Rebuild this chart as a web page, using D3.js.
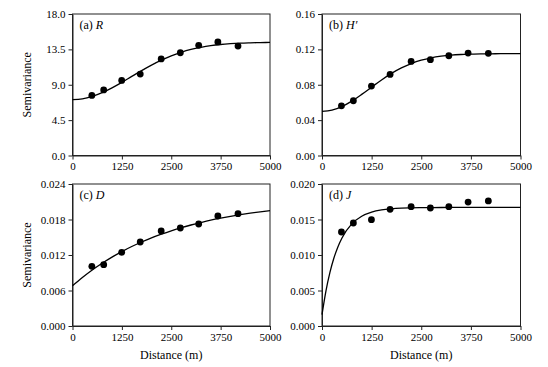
<!DOCTYPE html>
<html><head><meta charset="utf-8">
<script src="https://cdn.jsdelivr.net/npm/d3@7"></script>
<style>
body{margin:0;background:#fff;}
svg{display:block;font-family:"Liberation Serif","Times New Roman",serif;}
</style></head>
<body>
<svg id="chart" width="548" height="367"></svg>
<script>
// Lag distances (m) of the empirical semivariance points
const distances = [490, 790, 1245, 1715, 2245, 2730, 3195, 3680, 4190];
// Empirical semivariance
const semivarR = [7.64, 8.34, 9.55, 10.36, 12.29, 13.07, 14.01, 14.45, 13.92];
const semivarH = [0.0562, 0.0619, 0.0785, 0.0917, 0.1064, 0.1083, 0.1128, 0.1158, 0.1155];
const semivarD = [0.01008, 0.01037, 0.01245, 0.0142, 0.01606, 0.01656, 0.01724, 0.01859, 0.01899];
const semivarJ = [0.01324, 0.01451, 0.01498, 0.01643, 0.01681, 0.01662, 0.01681, 0.01746, 0.01761];

// Fitted model curves
const curveX = [0, 250, 500, 750, 1000, 1250, 1500, 1750, 2000, 2250, 2500, 2750, 3000, 3250, 3500, 3750, 4000, 4250, 4500, 4750, 5000];
const curveR = [7.10, 7.20, 7.51, 7.99, 8.61, 9.31, 10.06, 10.80, 11.50, 12.13, 12.68, 13.13, 13.49, 13.76, 13.97, 14.12, 14.22, 14.29, 14.33, 14.36, 14.38];
const curveH = [0.0498, 0.0512, 0.0553, 0.0615, 0.0691, 0.0773, 0.0854, 0.0928, 0.0990, 0.1040, 0.1078, 0.1105, 0.1123, 0.1135, 0.1142, 0.1146, 0.1149, 0.1150, 0.1151, 0.1151, 0.1151];
const curveD = [0.0068, 0.00820, 0.00947, 0.01061, 0.01165, 0.01258, 0.01343, 0.01420, 0.01490, 0.01552, 0.01609, 0.01661, 0.01707, 0.01749, 0.01788, 0.01822, 0.01853, 0.01881, 0.01907, 0.01930, 0.01951];
const curveJX = [0, 100, 200, 300, 400, 500, 750, 1000, 1250, 1500, 1750, 2000, 2500, 3000, 3500, 4000, 4500, 5000];
const curveJ = [0.0016, 0.00494, 0.00754, 0.00957, 0.01114, 0.01237, 0.01438, 0.01546, 0.01604, 0.01635, 0.01651, 0.01660, 0.01667, 0.01669, 0.0167, 0.0167, 0.0167, 0.0167];

// Axis ticks
const xTicks = [0, 1250, 2500, 3750, 5000];
const yTicksR = [0, 4.5, 9, 13.5, 18];
const yTicksH = [0, 0.04, 0.08, 0.12, 0.16];
const yTicksD = [0, 0.006, 0.012, 0.018, 0.024];
const yTicksJ = [0, 0.005, 0.010, 0.015, 0.020];

const panels = [
  {tag:"(a) ", sym:"R", ys:semivarR, cx:curveX, cy:curveR, ticks:yTicksR, fmt:d3.format(".1f"), box:[72.5,14,270,155.5], ylab:true, xlab:false},
  {tag:"(b) ", sym:"H\u2032", ys:semivarH, cx:curveX, cy:curveH, ticks:yTicksH, fmt:d3.format(".2f"), box:[322,14,520.5,155.5], ylab:false, xlab:false},
  {tag:"(c) ", sym:"D", ys:semivarD, cx:curveX, cy:curveD, ticks:yTicksD, fmt:d3.format(".3f"), box:[72.5,184,270,326], ylab:true, xlab:true},
  {tag:"(d) ", sym:"J", ys:semivarJ, cx:curveJX, cy:curveJ, ticks:yTicksJ, fmt:d3.format(".3f"), box:[322,184,520.5,326], ylab:false, xlab:true}
];

const svg = d3.select("#chart");

panels.forEach(p => {
  const [x0,y0,x1,y1] = p.box;
  const x = d3.scaleLinear().domain([0,5000]).range([x0,x1]);
  const y = d3.scaleLinear().domain([p.ticks[0], p.ticks[p.ticks.length-1]]).range([y1,y0]);
  const g = svg.append("g");

  // frame
  g.append("rect").attr("x",x0).attr("y",y0).attr("width",x1-x0).attr("height",y1-y0)
    .attr("fill","none").attr("stroke","#222").attr("stroke-width",1);

  const xa = g.append("g").attr("transform",`translate(0,${y1})`)
    .call(d3.axisBottom(x).tickValues(xTicks).tickFormat(d3.format("d")).tickSize(4).tickSizeOuter(0).tickPadding(3));
  const ya = g.append("g").attr("transform",`translate(${x0},0)`)
    .call(d3.axisLeft(y).tickValues(p.ticks).tickFormat(p.fmt).tickSize(4).tickSizeOuter(0).tickPadding(3));
  [xa,ya].forEach(a=>{
    a.select(".domain").attr("stroke","#222");
    a.selectAll(".tick line").attr("stroke","#222");
    a.selectAll("text").attr("font-family","Liberation Serif, serif").attr("font-size",11).attr("fill","#000");
  });

  // fitted curve
  const line = d3.line().x((d,i)=>x(p.cx[i])).y((d,i)=>y(d)).curve(d3.curveMonotoneX);
  g.append("path").attr("d", line(p.cy)).attr("fill","none").attr("stroke","#000").attr("stroke-width",1.3);

  // points
  g.selectAll("circle").data(p.ys).join("circle")
    .attr("cx",(d,i)=>x(distances[i])).attr("cy",d=>y(d)).attr("r",3.4).attr("fill","#000");

  // panel label
  const t = g.append("text").attr("x",x0+7).attr("y",y0+15).attr("font-size",12).attr("fill","#000");
  t.append("tspan").text(p.tag);
  t.append("tspan").attr("font-style","italic").text(p.sym);

  if (p.ylab) {
    g.append("text").attr("transform",`translate(31,${(y0+y1)/2}) rotate(-90)`)
      .attr("text-anchor","middle").attr("font-size",12).attr("fill","#000").text("Semivariance");
  }
  if (p.xlab) {
    g.append("text").attr("x",(x0+x1)/2).attr("y",359).attr("text-anchor","middle")
      .attr("font-size",12).attr("fill","#000").text("Distance (m)");
  }
});
</script>
</body></html>
